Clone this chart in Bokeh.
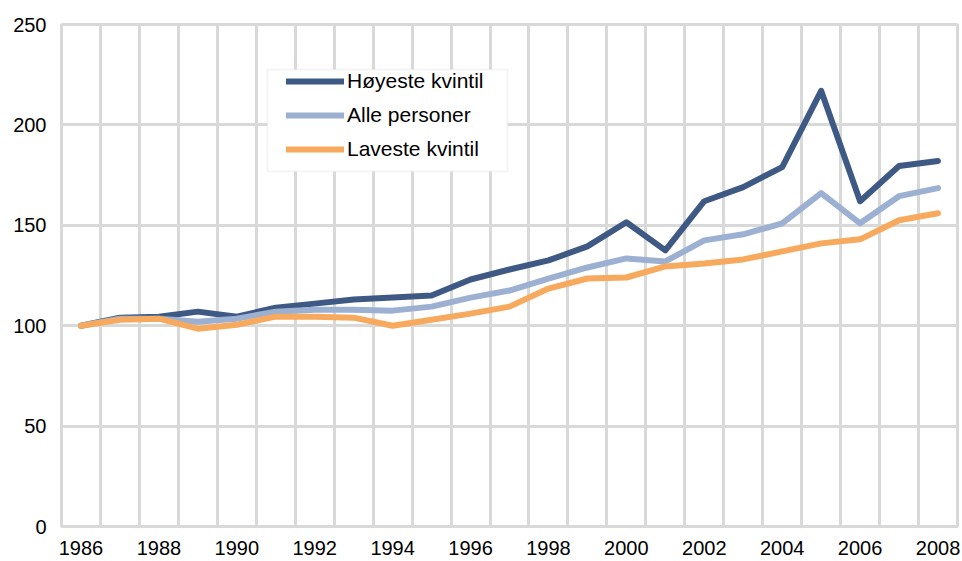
from bokeh.plotting import figure
from bokeh.models import (Range1d, FixedTicker, Legend, LegendItem, ColumnDataSource,
                          BoxAnnotation)
from bokeh.embed import file_html
from bokeh.resources import INLINE

years = list(range(1986, 2009))
hoyeste = [100, 104, 104.5, 107, 104.5, 109, 111, 113, 114, 115, 123, 128, 132.5,
           139.5, 151.5, 137.5, 162, 169, 179, 217, 162, 179.5, 182]
alle = [100, 103.5, 103.5, 102, 103.5, 107, 108, 108, 107.5, 109.5, 114, 117.5, 123.5,
        129, 133.5, 132, 142.5, 145.5, 151, 166, 151, 164.5, 168.5]
laveste = [100, 103, 103.5, 98.5, 100.5, 104.5, 104.5, 104, 100, 103, 106, 109.5, 118.5,
           123.5, 124, 129.5, 131, 133, 137, 141, 143, 152.5, 156]
series_names = ["Høyeste kvintil", "Alle personer", "Laveste kvintil"]
colors = ["#3E5A84", "#9CB0D2", "#F7A95E"]
y_ticks = [0, 50, 100, 150, 200, 250]
x_tick_years = years[::2]

FONT = "Liberation Sans"
GRID = "#D9D9D9"

p = figure(width=962, height=561, output_backend="svg", toolbar_location=None,
           x_range=Range1d(years[0] - 0.5, years[-1] + 0.5),
           y_range=Range1d(y_ticks[0], y_ticks[-1]),
           min_border_left=61, min_border_right=5, min_border_top=24, min_border_bottom=35)
p.background_fill_color = "white"
p.border_fill_color = "white"
p.outline_line_color = GRID
p.outline_line_width = 3

# grid: vertical lines at category boundaries, horizontal at y ticks
p.xgrid.ticker = FixedTicker(ticks=[y - 0.5 for y in years] + [years[-1] + 0.5])
p.ygrid.ticker = FixedTicker(ticks=y_ticks)
for g in (p.xgrid, p.ygrid):
    g.grid_line_color = GRID
    g.grid_line_width = 3

p.xaxis.ticker = FixedTicker(ticks=x_tick_years)
p.yaxis.ticker = FixedTicker(ticks=y_ticks)
for ax in (p.xaxis, p.yaxis):
    ax.axis_line_color = None
    ax.major_tick_line_color = None
    ax.minor_tick_line_color = None
    ax.major_tick_out = 0
    ax.major_tick_in = 0
    ax.major_label_text_font = FONT
    ax.major_label_text_font_size = "20px"
    ax.major_label_text_color = "#000000"
p.xaxis.major_label_standoff = 14
p.yaxis.major_label_standoff = 15

src = ColumnDataSource(dict(year=years, h=hoyeste, a=alle, l=laveste))
items = []
for key, name, col in zip(["h", "a", "l"], series_names, colors):
    r = p.line("year", key, source=src, line_color=col, line_width=6,
               line_cap="round", line_join="round")
    items.append(LegendItem(label=name, renderers=[r]))

# legend frame (Excel-style box, wider than Bokeh's uniform padding allows)
legend_box = BoxAnnotation(left=267, right=507, top=69, bottom=171,
                           left_units="canvas", right_units="canvas",
                           top_units="canvas", bottom_units="canvas",
                           fill_color="white", fill_alpha=1.0,
                           line_color=GRID, line_width=2)
p.add_layout(legend_box)

legend = Legend(items=items, location=(225, 365), margin=0, padding=8,
                glyph_width=58, glyph_height=18, label_height=18, spacing=10,
                label_standoff=3,
                label_text_font=FONT, label_text_font_size="21px",
                label_text_color="#000000",
                border_line_color=None,
                background_fill_alpha=0.0)
p.add_layout(legend, "center")

open("out.html", "w").write(file_html(p, INLINE))
